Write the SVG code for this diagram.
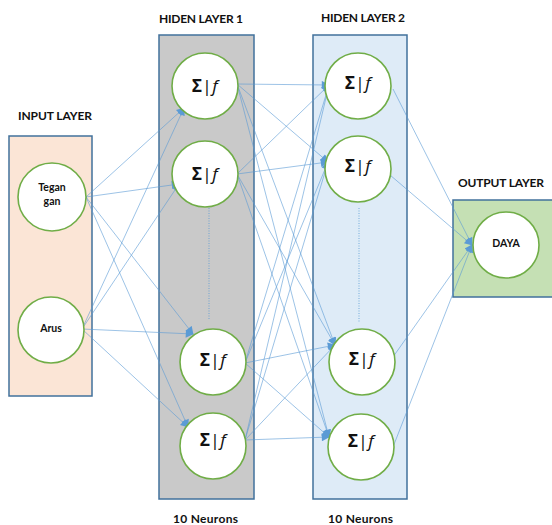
<svg xmlns="http://www.w3.org/2000/svg" width="552" height="525" viewBox="0 0 552 525">
  <style>
    .lbl { font-family: Lato, "Liberation Sans", sans-serif; font-weight: bold; fill: #111; }
    .box { stroke: #41719c; stroke-width: 1.5; }
    .node { fill: #ffffff; stroke: #70ad47; stroke-width: 1.6; }
    .sig { font-family: "Noto Sans", "Liberation Sans", sans-serif; font-size: 17px; fill: #111; text-anchor: middle; letter-spacing: 0.5px; }
    .sig .s { font-weight: bold; }
    .in { font-family: Lato, "Liberation Sans", sans-serif; font-weight: bold; font-size: 10.5px; fill: #111; text-anchor: middle; }
    .link { stroke: #5b9bd5; stroke-opacity: 0.75; stroke-width: 0.8; fill: none; marker-end: url(#arr); }
    .dots { stroke: #5b9bd5; stroke-width: 1; stroke-dasharray: 1 1.5; stroke-opacity: 0.8; }
  </style>
  <defs>
    <marker id="arr" viewBox="0 0 10 10" refX="9" refY="5" markerWidth="10" markerHeight="8" markerUnits="userSpaceOnUse" orient="auto">
      <path d="M0,0 L10,5 L0,10 z" fill="#5b9bd5"/>
    </marker>
  </defs>

  <rect width="552" height="525" fill="#ffffff"/>

  <!-- layer panels -->
  <g id="layer-input">
    <rect class="box" x="9" y="136" width="83" height="260" fill="#fbe5d6"/>
    <text class="lbl" x="18" y="120" font-size="12" textLength="74">INPUT LAYER</text>
  </g>
  <g id="layer-hidden1">
    <rect class="box" x="159" y="35" width="95" height="464" fill="#c9c9c9"/>
    <text class="lbl" x="159" y="23" font-size="12" textLength="84">HIDEN LAYER 1</text>
    <line class="dots" x1="209" y1="208" x2="209" y2="320"/>
  </g>
  <g id="layer-hidden2">
    <rect class="box" x="313" y="35" width="94" height="464" fill="#deebf7"/>
    <text class="lbl" x="321" y="22" font-size="12" textLength="84">HIDEN LAYER 2</text>
    <line class="dots" x1="359" y1="208" x2="359" y2="322"/>
  </g>
  <g id="layer-output">
    <rect class="box" x="453" y="200" width="104" height="97" fill="#c5e0b4"/>
    <text class="lbl" x="458" y="187" font-size="12" textLength="86">OUTPUT LAYER</text>
  </g>

  <!-- connectors -->
  <g id="connectors">
    <!-- input to hidden 1 -->
    <line class="link" x1="86" y1="197" x2="184" y2="108"/>
    <line class="link" x1="86" y1="197" x2="179" y2="184"/>
    <line class="link" x1="86" y1="197" x2="193" y2="334"/>
    <line class="link" x1="86" y1="197" x2="188" y2="427"/>
    <line class="link" x1="82" y1="329" x2="184" y2="108"/>
    <line class="link" x1="82" y1="329" x2="179" y2="184"/>
    <line class="link" x1="82" y1="329" x2="193" y2="334"/>
    <line class="link" x1="82" y1="329" x2="188" y2="427"/>
    <!-- hidden 1 to hidden 2 -->
    <line class="link" x1="237" y1="84" x2="329" y2="85"/>
    <line class="link" x1="237" y1="84" x2="328" y2="162"/>
    <line class="link" x1="237" y1="84" x2="335" y2="345"/>
    <line class="link" x1="237" y1="84" x2="329" y2="437"/>
    <line class="link" x1="237" y1="174" x2="329" y2="85"/>
    <line class="link" x1="237" y1="174" x2="328" y2="162"/>
    <line class="link" x1="237" y1="174" x2="335" y2="345"/>
    <line class="link" x1="237" y1="174" x2="329" y2="437"/>
    <line class="link" x1="245" y1="363" x2="329" y2="85"/>
    <line class="link" x1="245" y1="363" x2="328" y2="162"/>
    <line class="link" x1="245" y1="363" x2="335" y2="345"/>
    <line class="link" x1="245" y1="363" x2="329" y2="437"/>
    <line class="link" x1="245" y1="440" x2="329" y2="85"/>
    <line class="link" x1="245" y1="440" x2="328" y2="162"/>
    <line class="link" x1="245" y1="440" x2="335" y2="345"/>
    <line class="link" x1="245" y1="440" x2="329" y2="437"/>
    <!-- hidden 2 to output -->
    <line class="link" x1="393" y1="89" x2="472" y2="245"/>
    <line class="link" x1="390" y1="175" x2="472" y2="245"/>
    <line class="link" x1="393" y1="357" x2="472" y2="245"/>
    <line class="link" x1="393" y1="447" x2="472" y2="245"/>
  </g>

  <!-- input nodes -->
  <g id="in-tegangan">
    <circle class="node" cx="52" cy="197" r="34"/>
    <text class="in" x="52" y="191">Tegan</text>
    <text class="in" x="52" y="205">gan</text>
  </g>
  <g id="in-arus">
    <circle class="node" cx="51" cy="330" r="33"/>
    <text class="in" x="51" y="332">Arus</text>
  </g>

  <!-- hidden layer 1 neurons -->
  <g id="h1-n1">
    <circle class="node" cx="205" cy="86" r="33"/>
    <text class="sig" x="205" y="92"><tspan class="s">Σ</tspan>|<tspan font-style="italic">f</tspan></text>
  </g>
  <g id="h1-n2">
    <circle class="node" cx="205" cy="174" r="33"/>
    <text class="sig" x="205" y="180"><tspan class="s">Σ</tspan>|<tspan font-style="italic">f</tspan></text>
  </g>
  <g id="h1-n3">
    <circle class="node" cx="213" cy="362" r="33"/>
    <text class="sig" x="213" y="366"><tspan class="s">Σ</tspan>|<tspan font-style="italic">f</tspan></text>
  </g>
  <g id="h1-n4">
    <circle class="node" cx="213" cy="446" r="33"/>
    <text class="sig" x="213" y="446"><tspan class="s">Σ</tspan>|<tspan font-style="italic">f</tspan></text>
  </g>

  <!-- hidden layer 2 neurons -->
  <g id="h2-n1">
    <circle class="node" cx="358" cy="86" r="33"/>
    <text class="sig" x="358" y="89"><tspan class="s">Σ</tspan>|<tspan font-style="italic">f</tspan></text>
  </g>
  <g id="h2-n2">
    <circle class="node" cx="358" cy="169" r="33"/>
    <text class="sig" x="358" y="172"><tspan class="s">Σ</tspan>|<tspan font-style="italic">f</tspan></text>
  </g>
  <g id="h2-n3">
    <circle class="node" cx="362" cy="362" r="33"/>
    <text class="sig" x="362" y="365"><tspan class="s">Σ</tspan>|<tspan font-style="italic">f</tspan></text>
  </g>
  <g id="h2-n4">
    <circle class="node" cx="361" cy="447" r="33"/>
    <text class="sig" x="361" y="447"><tspan class="s">Σ</tspan>|<tspan font-style="italic">f</tspan></text>
  </g>

  <!-- output node -->
  <g id="out-daya">
    <circle class="node" cx="506" cy="245" r="33"/>
    <text class="in" x="506" y="247" font-size="10">DAYA</text>
  </g>

  <!-- neuron counts -->
  <g id="counts">
    <text class="lbl" x="173" y="523" font-size="12" textLength="65">10 Neurons</text>
    <text class="lbl" x="328" y="523" font-size="12" textLength="65">10 Neurons</text>
  </g>
</svg>
